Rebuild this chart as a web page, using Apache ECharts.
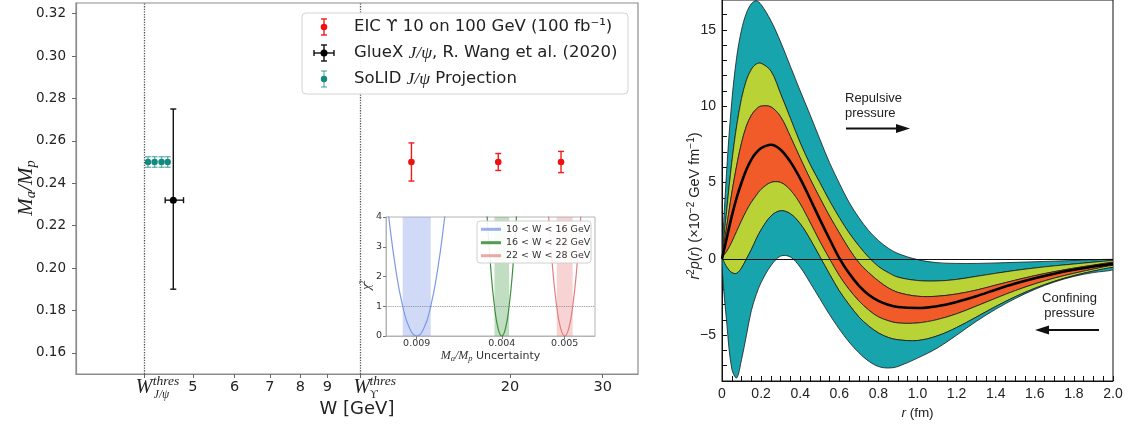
<!DOCTYPE html>
<html>
<head>
<meta charset="utf-8">
<title>Gluon mass ratio and proton pressure</title>
<script src="https://cdn.jsdelivr.net/npm/echarts@6.0.0/dist/echarts.min.js"></script>
<style>
  html, body { margin: 0; padding: 0; background: #fff; }
  #chart { width: 1128px; height: 425px; }
</style>
</head>
<body>
<div id="chart"></div>
<script>
// ---- left panel: M_a/M_p against W ----
const wTicks = [5, 6, 7, 8, 9, 20, 30]
const ratioTicks = [0.16, 0.18, 0.20, 0.22, 0.24, 0.26, 0.28, 0.30, 0.32]
const wThresJpsi = 4.035
const wThresUpsilon = 10.4

const eicW = [13, 19, 25]
const eicRatio = [0.25, 0.25, 0.25]
const eicErr = [0.009, 0.004, 0.005]

const gluexW = [4.59]
const gluexWLow = [4.43]
const gluexWHigh = [4.80]
const gluexRatio = [0.232]
const gluexLow = [0.19]
const gluexHigh = [0.275]

const solidW = [4.11, 4.23, 4.36, 4.48]
const solidRatio = [0.25, 0.25, 0.25, 0.25]
const solidErr = [0.0025, 0.0025, 0.0025, 0.0025]

// ---- inset: chi2 scans (x in inset units) ----
const insetTicks = [14.7, 55.4, 85.5]
const insetTickLabels = ['0.009', '0.004', '0.005']
const insetBandLow = [8.0, 51.9, 81.7]
const insetBandHigh = [21.4, 58.9, 89.3]
const chiBlueX = [-0.04, 1.3, 4.65, 8.0, 11.35, 14.7, 18.05, 21.4, 24.75, 28.1, 29.44]
const chiGreenX = [47.7, 48.4, 50.15, 51.9, 53.65, 55.4, 57.15, 58.9, 60.65, 62.4, 63.1]
const chiRedX = [77.07, 77.84, 79.76, 81.67, 83.59, 85.5, 87.42, 89.33, 91.25, 93.16, 93.93]
const chiValues = [4.84, 4, 2.25, 1, 0.25, 0, 0.25, 1, 2.25, 4, 4.84]

// ---- right panel: r^2 p(r) bands ----
const rFm = [0, 0.025, 0.05, 0.075, 0.1, 0.125, 0.15, 0.175, 0.2, 0.25, 0.3, 0.35, 0.4, 0.45, 0.5, 0.55, 0.6, 0.65, 0.7, 0.75, 0.8, 0.85, 0.9, 1.0, 1.1, 1.2, 1.3, 1.4, 1.5, 1.6, 1.7, 1.8, 1.9, 2.0]
const outerHigh = [0, 6.0, 10.3, 13.2, 15.0, 16.1, 16.7, 16.9, 16.65, 15.6, 14.2, 12.6, 11.0, 9.45, 7.85, 6.3, 4.95, 3.7, 2.7, 1.85, 1.2, 0.7, 0.35, -0.05, -0.25, -0.3, -0.3, -0.27, -0.23, -0.19, -0.15, -0.11, -0.07, -0.03]
const midHigh = [0, 3.3, 6.3, 8.7, 10.5, 11.7, 12.4, 12.75, 12.8, 12.3, 10.8, 9.2, 7.6, 6.2, 5.0, 3.8, 2.7, 1.7, 0.85, 0.1, -0.5, -0.9, -1.2, -1.42, -1.45, -1.35, -1.15, -0.95, -0.76, -0.6, -0.46, -0.34, -0.22, -0.12]
const innerHigh = [0, 2.2, 4.3, 6.1, 7.6, 8.7, 9.4, 9.8, 10.0, 9.95, 9.3, 8.0, 6.6, 5.25, 4.0, 2.8, 1.7, 0.65, -0.25, -0.9, -1.45, -1.9, -2.2, -2.45, -2.45, -2.3, -2.05, -1.72, -1.4, -1.1, -0.84, -0.61, -0.41, -0.23]
const central = [0, 1.4, 2.8, 4.0, 5.0, 5.85, 6.5, 6.95, 7.25, 7.47, 7.15, 6.35, 5.25, 3.95, 2.6, 1.3, 0.05, -0.95, -1.75, -2.35, -2.75, -3.0, -3.15, -3.22, -3.1, -2.82, -2.45, -2.02, -1.62, -1.27, -0.97, -0.72, -0.5, -0.33]
const innerLow = [0, 0.5, 1.1, 1.8, 2.5, 3.15, 3.7, 4.15, 4.55, 5.0, 5.0, 4.5, 3.6, 2.4, 1.15, 0.0, -1.1, -2.0, -2.75, -3.35, -3.8, -4.05, -4.2, -4.2, -3.98, -3.6, -3.1, -2.58, -2.08, -1.64, -1.26, -0.95, -0.67, -0.43]
const midLow = [0, -0.55, -0.9, -0.95, -0.6, 0.0, 0.6, 1.3, 1.9, 2.8, 3.15, 2.95, 2.3, 1.3, 0.15, -1.0, -2.1, -3.0, -3.8, -4.4, -4.85, -5.15, -5.3, -5.35, -5.05, -4.5, -3.82, -3.12, -2.48, -1.93, -1.47, -1.1, -0.8, -0.56]
const outerLow = [0, -4.3, -7.2, -7.8, -6.6, -5.0, -3.4, -2.35, -1.55, -0.45, 0.18, 0.12, -0.55, -1.55, -2.6, -3.65, -4.6, -5.45, -6.15, -6.7, -7.05, -7.15, -7.05, -6.5, -5.85, -5.0, -4.1, -3.3, -2.6, -2.0, -1.52, -1.15, -0.9, -0.72]
const pressureLabelTicks = [-5, 0, 5, 10, 15]
const pressureTicks = [-7, -6, -5, -4, -3, -2, -1, 0, 1, 2, 3, 4, 5, 6, 7, 8, 9, 10, 11, 12, 13, 14, 15, 16]

const SANS = 'DejaVu Sans'
const SERIF = 'Liberation Serif'
const HELV = 'Liberation Sans'
const TEAL = '#17a4ad'
const LIME = '#b9d236'
const ORANGE = '#f15a29'

const chart = echarts.init(document.getElementById('chart'))

// error bar glyph: [w, ratio, low, high, wLow, wHigh]
const errorBar = (color, dotColor, radius) => (params, api) => {
  const w = api.value(0), m = api.value(1)
  const c = api.coord([w, m])
  const top = api.coord([w, api.value(3)])
  const bot = api.coord([w, api.value(2)])
  const left = api.coord([api.value(4), m])
  const right = api.coord([api.value(5), m])
  const st = () => ({ stroke: color, lineWidth: 1.4 })
  const cap = 3
  const kids = [
    { type: 'line', shape: { x1: c[0], y1: top[1], x2: c[0], y2: bot[1] }, style: st() },
    { type: 'line', shape: { x1: c[0] - cap, y1: top[1], x2: c[0] + cap, y2: top[1] }, style: st() },
    { type: 'line', shape: { x1: c[0] - cap, y1: bot[1], x2: c[0] + cap, y2: bot[1] }, style: st() }
  ]
  if (right[0] - left[0] > 1) {
    kids.push(
      { type: 'line', shape: { x1: left[0], y1: c[1], x2: right[0], y2: c[1] }, style: st() },
      { type: 'line', shape: { x1: left[0], y1: c[1] - cap, x2: left[0], y2: c[1] + cap }, style: st() },
      { type: 'line', shape: { x1: right[0], y1: c[1] - cap, x2: right[0], y2: c[1] + cap }, style: st() }
    )
  }
  kids.push({ type: 'circle', shape: { cx: c[0], cy: c[1], r: radius }, style: { fill: dotColor } })
  return { type: 'group', children: kids }
}

const bandDefs = [
  [outerHigh, midHigh, TEAL],
  [midHigh, innerHigh, LIME],
  [innerHigh, innerLow, ORANGE],
  [innerLow, midLow, LIME],
  [midLow, outerLow, TEAL]
]

const fmtMinus = v => (v < 0 ? '\u2212' + Math.abs(v) : String(v))

chart.setOption({
  animation: false,
  backgroundColor: '#fff',
  grid: [
    { left: 76, right: 490, top: 3, bottom: 51, show: true, borderColor: '#8c8c8c', borderWidth: 1.2 },
    { left: 386, right: 533, top: 217, bottom: 89, show: true, backgroundColor: '#fff', borderColor: '#b4b4b4', borderWidth: 1 },
    { left: 722, right: 15, top: -2, bottom: 44, show: true, borderColor: '#111', borderWidth: 1 }
  ],
  xAxis: [
    // data axis of the left panel (log), drawn by the tick axis below
    { type: 'log', gridIndex: 0, min: 3, max: 35, position: 'bottom', show: false },
    {
      type: 'value', gridIndex: 0, min: Math.log10(3), max: Math.log10(35), position: 'bottom',
      axisLine: { onZero: false, lineStyle: { color: '#8c8c8c', width: 1.2 } },
      axisTick: { customValues: [wThresJpsi, ...wTicks.slice(0, 5), wThresUpsilon, 20, 30].map(Math.log10), length: 4, lineStyle: { color: '#666' } },
      axisLabel: { customValues: wTicks.map(Math.log10), formatter: v => String(Math.round(Math.pow(10, v))), fontSize: 14.5, fontFamily: SANS, color: '#222', margin: 6 },
      splitLine: { show: false },
      name: 'W [GeV]', nameLocation: 'middle', nameGap: 24,
      nameTextStyle: { fontSize: 18, fontFamily: SANS, color: '#222' }
    },
    {
      type: 'value', gridIndex: 1, min: 0, max: 100, position: 'bottom',
      axisLine: { onZero: false, lineStyle: { color: '#b4b4b4' } },
      axisTick: { customValues: insetTicks, length: 3, lineStyle: { color: '#777' } },
      axisLabel: { customValues: insetTicks, formatter: v => insetTickLabels[insetTicks.indexOf(v)] || '', fontSize: 9.5, fontFamily: SANS, color: '#333', margin: 3 },
      splitLine: { show: false },
      name: '{i|M}{s|a}{i|/M}{s|p}{n| Uncertainty}', nameLocation: 'middle', nameGap: 12,
      nameTextStyle: {
        rich: {
          i: { fontFamily: SERIF, fontStyle: 'italic', fontSize: 12, lineHeight: 14, color: '#333' },
          s: { fontFamily: SERIF, fontStyle: 'italic', fontSize: 8.5, lineHeight: 8, verticalAlign: 'bottom', color: '#333' },
          n: { fontFamily: SANS, fontSize: 11, lineHeight: 14, color: '#333' }
        }
      }
    },
    {
      type: 'value', gridIndex: 2, min: 0, max: 2, interval: 0.2, position: 'bottom',
      axisLine: { onZero: false, lineStyle: { color: '#111', width: 1 } },
      axisTick: { inside: true, length: 5, lineStyle: { color: '#111' } },
      minorTick: { show: true, splitNumber: 4, length: 5, lineStyle: { color: '#111' } },
      axisLabel: { formatter: v => (v === 0 ? '0' : v.toFixed(1)), fontSize: 14, fontFamily: HELV, color: '#222', margin: 6 },
      splitLine: { show: false },
      name: '{i|r}{n| (fm)}', nameLocation: 'middle', nameGap: 25,
      nameTextStyle: {
        rich: {
          i: { fontFamily: HELV, fontStyle: 'italic', fontSize: 13.5, color: '#222' },
          n: { fontFamily: HELV, fontSize: 13.5, color: '#222' }
        }
      }
    }
  ],
  yAxis: [
    {
      type: 'value', gridIndex: 0, min: 0.15, max: 0.325,
      axisLine: { show: true, onZero: false, lineStyle: { color: '#8c8c8c', width: 1.2 } },
      axisTick: { show: true, customValues: ratioTicks, length: 4, lineStyle: { color: '#666' } },
      axisLabel: { customValues: ratioTicks, formatter: v => v.toFixed(2), fontSize: 13.5, fontFamily: SANS, color: '#222', margin: 10 },
      splitLine: { show: false }
    },
    {
      type: 'value', gridIndex: 1, min: 0, max: 4, interval: 1,
      axisLine: { show: true, onZero: false, lineStyle: { color: '#b4b4b4' } },
      axisTick: { show: true, length: 3, lineStyle: { color: '#777' } },
      axisLabel: { fontSize: 9.5, fontFamily: SANS, color: '#333', margin: 4 },
      splitLine: { show: false }
    },
    {
      type: 'value', gridIndex: 2, min: -8, max: 16.95,
      axisLine: { show: true, onZero: false, lineStyle: { color: '#111', width: 1 } },
      axisTick: { show: true, inside: true, customValues: pressureTicks, length: 5, lineStyle: { color: '#111' } },
      axisLabel: { customValues: pressureLabelTicks, formatter: fmtMinus, fontSize: 14, fontFamily: HELV, color: '#222', margin: 6 },
      splitLine: { show: false }
    }
  ],
  series: [
    {
      type: 'custom', name: 'EIC', xAxisIndex: 0, yAxisIndex: 0,
      encode: { x: 0, y: 1 },
      renderItem: errorBar('#f01c1c', '#f01010', 3.3),
      data: eicW.map((w, i) => [w, eicRatio[i], eicRatio[i] - eicErr[i], eicRatio[i] + eicErr[i], w, w]),
      markLine: {
        silent: true, symbol: 'none', label: { show: false },
        lineStyle: { color: '#555', type: 'dotted', width: 1.3 },
        data: [{ xAxis: wThresJpsi }, { xAxis: wThresUpsilon }]
      }
    },
    {
      type: 'custom', name: 'GlueX', xAxisIndex: 0, yAxisIndex: 0,
      encode: { x: 0, y: 1 },
      renderItem: errorBar('#111', '#000', 3.5),
      data: gluexW.map((w, i) => [w, gluexRatio[i], gluexLow[i], gluexHigh[i], gluexWLow[i], gluexWHigh[i]])
    },
    {
      type: 'custom', name: 'SoLID', xAxisIndex: 0, yAxisIndex: 0,
      encode: { x: 0, y: 1 },
      renderItem: errorBar('rgba(20,140,130,0.6)', '#138a80', 3.2),
      data: solidW.map((w, i) => [w, solidRatio[i], solidRatio[i] - solidErr[i], solidRatio[i] + solidErr[i], w, w])
    },
    {
      type: 'line', name: '10 < W < 16 GeV', xAxisIndex: 2, yAxisIndex: 1,
      data: chiBlueX.map((x, i) => [x, chiValues[i]]), smooth: 0.5, showSymbol: false,
      lineStyle: { color: '#7f98e6', width: 1.2 },
      markArea: { silent: true, itemStyle: { color: 'rgba(120,150,230,0.35)' }, data: [[{ xAxis: insetBandLow[0] }, { xAxis: insetBandHigh[0] }]] },
      markLine: {
        silent: true, symbol: 'none', label: { show: false },
        lineStyle: { color: '#888', type: 'dotted', width: 0.9 },
        data: [{ yAxis: 1 }]
      }
    },
    {
      type: 'line', name: '16 < W < 22 GeV', xAxisIndex: 2, yAxisIndex: 1,
      data: chiGreenX.map((x, i) => [x, chiValues[i]]), smooth: 0.5, showSymbol: false,
      lineStyle: { color: '#3b8f3b', width: 1.2 },
      markArea: { silent: true, itemStyle: { color: 'rgba(80,160,80,0.35)' }, data: [[{ xAxis: insetBandLow[1] }, { xAxis: insetBandHigh[1] }]] }
    },
    {
      type: 'line', name: '22 < W < 28 GeV', xAxisIndex: 2, yAxisIndex: 1,
      data: chiRedX.map((x, i) => [x, chiValues[i]]), smooth: 0.5, showSymbol: false,
      lineStyle: { color: '#e07f7f', width: 1.2 },
      markArea: { silent: true, itemStyle: { color: 'rgba(235,130,130,0.35)' }, data: [[{ xAxis: insetBandLow[2] }, { xAxis: insetBandHigh[2] }]] }
    },
    {
      type: 'custom', name: 'bands', xAxisIndex: 3, yAxisIndex: 2, clip: true,
      encode: { x: 0, y: 1 },
      data: bandDefs.map((b, i) => [i * 0.1, 0]),
      renderItem: (params, api) => {
        const [upper, lower, color] = bandDefs[params.dataIndex]
        const pts = rFm.map((r, i) => api.coord([r, upper[i]]))
        for (let i = rFm.length - 1; i >= 1; i--) pts.push(api.coord([rFm[i], lower[i]]))
        return { type: 'polygon', shape: { points: pts, smooth: 0.35 }, style: { fill: color, stroke: '#1a1a1a', lineWidth: 0.8 } }
      }
    },
    {
      type: 'line', name: 'central', xAxisIndex: 3, yAxisIndex: 2, z: 4,
      data: rFm.map((r, i) => [r, central[i]]), smooth: 0.35, showSymbol: false,
      lineStyle: { color: '#000', width: 2.6 },
      markLine: {
        silent: true, symbol: 'none', label: { show: false },
        lineStyle: { color: '#111', type: 'solid', width: 1 },
        data: [{ yAxis: 0 }]
      }
    }
  ]
})

// ---- overlays: legends, threshold labels, axis titles, arrows ----
function txt(x, y, text, style, rotation) {
  const s = Object.assign({ text, fill: '#222', align: 'left', verticalAlign: 'middle' }, style)
  s.textAlign = s.align
  s.textVerticalAlign = s.verticalAlign
  return { type: 'text', x, y, rotation: rotation || 0, z: 100, silent: true, style: s }
}
function seg(x1, y1, x2, y2, stroke, lineWidth) {
  return { type: 'line', z: 100, silent: true, shape: { x1, y1, x2, y2 }, style: { stroke, lineWidth: lineWidth || 1.4 } }
}
function vbar(x, y, h, color) {
  return [seg(x, y - h, x, y + h, color), seg(x - 3, y - h, x + 3, y - h, color), seg(x - 3, y + h, x + 3, y + h, color)]
}
function dot(x, y, r, fill) {
  return { type: 'circle', z: 101, silent: true, shape: { cx: x, cy: y, r }, style: { fill } }
}

const els = []
// main legend
els.push({ type: 'rect', z: 99, silent: true, shape: { x: 302, y: 13, width: 326, height: 81, r: 4 }, style: { fill: 'rgba(255,255,255,0.92)', stroke: '#d4d4d4', lineWidth: 1 } })
const legRich = {
  n: { fontFamily: SANS, fontSize: 16.5, fill: '#222' },
  i: { fontFamily: SERIF, fontStyle: 'italic', fontSize: 17.5, fill: '#222' }
}
els.push(...vbar(324, 27, 8, '#f01c1c'), dot(324, 27, 3.3, '#f01010'))
els.push(txt(354, 27, 'EIC \u03D2 10 on 100 GeV (100 fb\u207B\u00B9)', { fontFamily: SANS, fontSize: 16.5 }))
els.push(...vbar(324, 53, 8, '#111'), seg(314, 53, 334, 53, '#111'), seg(314, 50, 314, 56, '#111'), seg(334, 50, 334, 56, '#111'), dot(324, 53, 3.5, '#000'))
els.push(txt(354, 53, '{n|GlueX }{i|J/\u03C8}{n|, R. Wang et al. (2020)}', { rich: legRich }))
els.push(...vbar(324, 79, 8, 'rgba(20,140,130,0.6)'), dot(324, 79, 3.2, '#138a80'))
els.push(txt(354, 79, '{n|SoLID }{i|J/\u03C8}{n| Projection}', { rich: legRich }))

// left y title
els.push(txt(26, 188, '{i|M}{s|a}{i|/M}{s|p}', {
  align: 'center',
  rich: {
    i: { fontFamily: SERIF, fontStyle: 'italic', fontSize: 21, lineHeight: 25, fill: '#222' },
    s: { fontFamily: SERIF, fontStyle: 'italic', fontSize: 14.5, lineHeight: 14, verticalAlign: 'bottom', fill: '#222' }
  }
}, Math.PI / 2))

// threshold tick labels
const pxJ = chart.convertToPixel({ xAxisIndex: 0 }, wThresJpsi)
const pxU = chart.convertToPixel({ xAxisIndex: 0 }, wThresUpsilon)
const wStyle = { fontFamily: SERIF, fontStyle: 'italic', fontSize: 20 }
const supStyle = { fontFamily: SERIF, fontStyle: 'italic', fontSize: 13.5 }
els.push(txt(pxJ - 8, 388, 'W', wStyle), txt(pxJ + 9, 381, 'thres', supStyle), txt(pxJ + 10, 395, 'J/\u03C8', { fontFamily: SERIF, fontStyle: 'italic', fontSize: 11.5 }))
els.push(txt(pxU - 7, 388, 'W', wStyle), txt(pxU + 9, 381, 'thres', supStyle), txt(pxU + 9, 395, '\u03D2', { fontFamily: SERIF, fontSize: 11.5 }))

// inset legend
els.push({ type: 'rect', z: 99, silent: true, shape: { x: 477, y: 221, width: 114, height: 42, r: 3 }, style: { fill: 'rgba(255,255,255,0.9)', stroke: '#d0d0d0', lineWidth: 1 } })
const insetLeg = [['10 < W < 16 GeV', 'rgba(120,150,230,0.75)', 229.3], ['16 < W < 22 GeV', 'rgba(50,140,50,0.85)', 242.7], ['22 < W < 28 GeV', 'rgba(230,130,130,0.7)', 255.7]]
insetLeg.forEach(([t, c, y]) => {
  els.push(seg(481, y, 501, y, c, 3))
  els.push(txt(506, y, t, { fontFamily: SANS, fontSize: 9.5, fill: '#333' }))
})
// inset y title
els.push(txt(367, 285, '{i|\u03C7}{s|2}', {
  align: 'center',
  rich: {
    i: { fontFamily: SERIF, fontStyle: 'italic', fontSize: 13, lineHeight: 16, fill: '#333' },
    s: { fontFamily: SERIF, fontSize: 8, lineHeight: 8, verticalAlign: 'top', fill: '#333' }
  }
}, Math.PI / 2))

// right y title
els.push(txt(695, 206, '{i|r}{s|2}{i|p}{n|(}{i|r}{n|) (\u00D710}{s|\u22122}{n| GeV fm}{s|\u22121}{n|)}', {
  align: 'center',
  rich: {
    i: { fontFamily: HELV, fontStyle: 'italic', fontSize: 14.5, lineHeight: 18, fill: '#222' },
    n: { fontFamily: HELV, fontSize: 14.5, lineHeight: 18, fill: '#222' },
    s: { fontFamily: HELV, fontSize: 10, lineHeight: 10, verticalAlign: 'top', fill: '#222' }
  }
}, Math.PI / 2))

// annotations with arrows
const noteStyle = { fontFamily: HELV, fontSize: 13, fill: '#222' }
els.push(txt(845, 98, 'Repulsive', noteStyle), txt(845, 113.5, 'pressure', noteStyle))
els.push(seg(846, 128.5, 898, 128.5, '#111', 1.8))
els.push({ type: 'polygon', z: 100, silent: true, shape: { points: [[896, 124], [910, 128.5], [896, 133]] }, style: { fill: '#111' } })
els.push(txt(1069.5, 298, 'Confining', Object.assign({ align: 'center' }, noteStyle)), txt(1069.5, 313.5, 'pressure', Object.assign({ align: 'center' }, noteStyle)))
els.push(seg(1047, 330, 1099, 330, '#111', 1.8))
els.push({ type: 'polygon', z: 100, silent: true, shape: { points: [[1049, 325.5], [1035, 330], [1049, 334.5]] }, style: { fill: '#111' } })

chart.setOption({ graphic: { elements: els } })
</script>
</body>
</html>
